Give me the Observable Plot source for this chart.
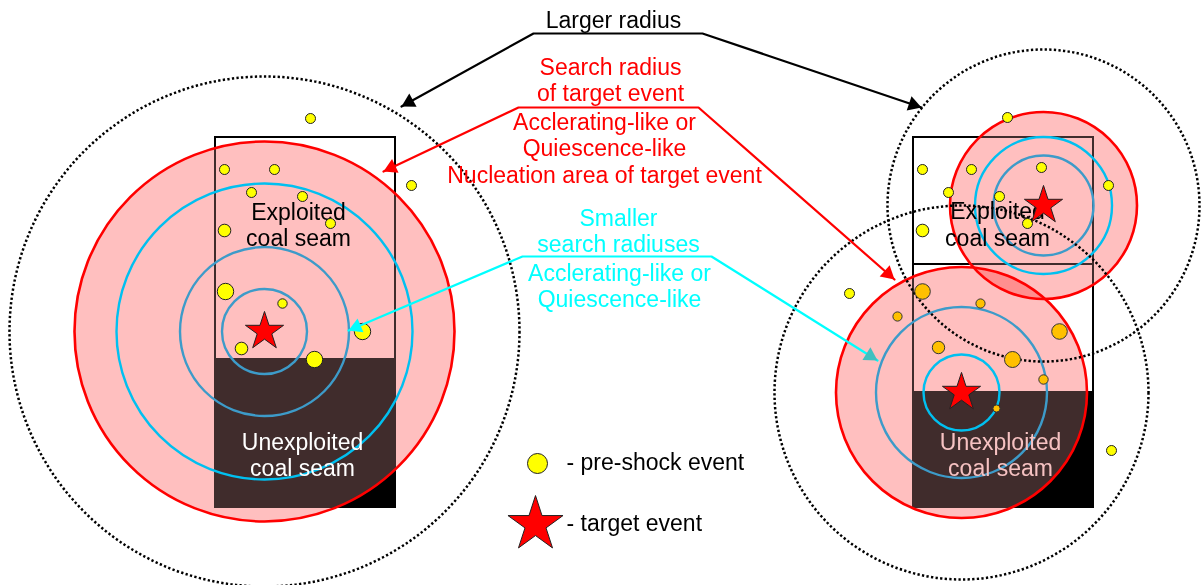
<!DOCTYPE html>
<html>
<head>
<meta charset="utf-8">
<script src="https://cdn.jsdelivr.net/npm/d3@7"></script>
<script src="https://cdn.jsdelivr.net/npm/@observablehq/plot@0.6"></script>
<style>
  html, body { margin: 0; padding: 0; background: #fff; }
  #chart svg { display: block; }
</style>
</head>
<body>
<div id="chart"></div>
<script>
// ---------- diagram data (units: figure pixels, y grows downward) ----------
const seamBlocks = [
  {x1: 215, x2: 395, y1: 137, y2: 507},
  {x1: 913, x2: 1093, y1: 137, y2: 264},
  {x1: 913, x2: 1093, y1: 264, y2: 507}
];
const unexploitedBlocks = [
  {x1: 215, x2: 395, y1: 358, y2: 507},
  {x1: 913, x2: 1093, y1: 391, y2: 507}
];
const targetEvents = [
  {x: 264, y: 331},
  {x: 1043, y: 205},
  {x: 961, y: 392}
];
const searchRadius = [190, 93.5, 125.5];     // red nucleation areas
const largerRadius = [255, 156, 187];        // dotted circles
const smallerRadiusLight = [[0, 148], [1, 68.5], [2, 38]];          // [target index, radius]
const smallerRadiusSteel = [[0, 84.5], [0, 42.5], [1, 50], [2, 85.5]];

const preShockYellow = [
  [310, 118, 5], [224, 169, 5], [274, 169, 5], [251, 192, 5], [302, 196, 5],
  [411, 185, 5], [330, 223, 5], [224, 230, 6.3], [225, 291, 8.2], [282, 303, 4.7],
  [362, 331, 8.2], [241, 348, 6.3], [314, 359, 8.2],
  [1007, 117, 5], [922, 169, 5], [971, 169, 5], [948, 192, 5], [999, 196, 5],
  [1041, 167, 5], [1108, 185, 5], [1027, 223, 5], [922, 230, 6.3],
  [849, 293, 5], [1111, 450, 5]
];
const preShockOrange = [
  [922, 291, 7.8], [980, 303, 4.6], [897, 316, 4.6], [1059, 331, 7.8],
  [938, 347, 6.2], [1012, 359, 8], [1043, 379, 4.7], [996, 408, 3.6]
];

const largerRadiusLeader = [[401, 106], [533, 33], [702, 33], [921, 107]];
const searchRadiusLeader = [[383, 171], [518, 107], [698, 107], [894, 279]];
const smallerRadiusLeader = [[348, 330], [522, 256], [711, 256], [877, 360]];

const largerRadiusLabel = [{text: "Larger radius", x: 613, y: 27}];
const searchRadiusLabel = [
  {text: "Search radius", x: 610, y: 74},
  {text: "of target event", x: 610, y: 100},
  {text: "Acclerating-like or", x: 604, y: 129},
  {text: "Quiescence-like", x: 604, y: 155},
  {text: "Nucleation area of target event", x: 604, y: 182}
];
const smallerRadiusLabel = [
  {text: "Smaller", x: 618, y: 225},
  {text: "search radiuses", x: 618, y: 251},
  {text: "Acclerating-like or", x: 619, y: 280},
  {text: "Quiescence-like", x: 619, y: 306}
];
const exploitedLabels = [
  {text: "Exploited", x: 298, y: 219}, {text: "coal seam", x: 298, y: 245},
  {text: "Exploited", x: 997, y: 218}, {text: "coal seam", x: 997, y: 245}
];
const unexploitedLabelsLeft = [
  {text: "Unexploited", x: 302, y: 449}, {text: "coal seam", x: 302, y: 475}
];
const unexploitedLabelsRight = [
  {text: "Unexploited", x: 1000, y: 449}, {text: "coal seam", x: 1000, y: 475}
];
const legendPreShock = [{x: 537, y: 463, r: 10, label: "- pre-shock event", lx: 566, ly: 469}];
const legendTarget = [{x: 535, y: 524, label: "- target event", lx: 566, ly: 530}];

// ---------- derived tables ----------
const W = 1202, H = 585;
const circles = (radii) => radii.map(([i, r]) => ({x: targetEvents[i].x, y: targetEvents[i].y, r}));
const searchCircles = circles(searchRadius.map((r, i) => [i, r]));
const largerCircles = circles(largerRadius.map((r, i) => [i, r]));
const lightCircles = circles(smallerRadiusLight);
const steelCircles = circles(smallerRadiusSteel);
const dotsOf = (arr) => arr.map(([x, y, r]) => ({x, y, r}));
const path = (pts) => pts.map(([x, y]) => ({x, y}));

const HEAD_R = 5.6;
const headOffset = 2 * HEAD_R * Math.sqrt(Math.PI / (3 * Math.sqrt(3)));
function head(tip, from) {
  const dx = tip[0] - from[0], dy = tip[1] - from[1];
  const L = Math.hypot(dx, dy), ux = dx / L, uy = dy / L;
  return {x: tip[0] - ux * headOffset, y: tip[1] - uy * headOffset,
          angle: Math.atan2(ux, -uy) * 180 / Math.PI};
}
const startHead = (p) => [head(p[0], p[1])];
const endHead = (p) => [head(p[p.length - 1], p[p.length - 2])];

const FONT = 23;
const txt = (data, fill, anchor = "middle") => Plot.text(data, {
  x: "x", y: "y", text: "text", fill, fontSize: FONT, textAnchor: anchor, lineAnchor: "bottom"
});

const chart = Plot.plot({
  width: W, height: H, margin: 0,
  x: {domain: [0, W], range: [0, W], axis: null},
  y: {domain: [0, H], range: [0, H], axis: null},
  r: {type: "linear", domain: [0, 300], range: [0, 300]},
  style: {background: "#fff", fontFamily: "'Liberation Sans', Arial, sans-serif", overflow: "visible"},
  marks: [
    Plot.rect(unexploitedBlocks, {x1: "x1", x2: "x2", y1: "y1", y2: "y2", fill: "#000"}),
    Plot.rect(seamBlocks, {x1: "x1", x2: "x2", y1: "y1", y2: "y2", fill: "none", stroke: "#000", strokeWidth: 2}),
    Plot.dot(searchCircles, {x: "x", y: "y", r: "r", fill: "#ff0000", fillOpacity: 0.25}),
    Plot.dot(searchCircles, {x: "x", y: "y", r: "r", fill: "#2c2c2c", mixBlendMode: "lighten"}),
    Plot.dot(searchCircles, {x: "x", y: "y", r: "r", stroke: "#ff0000", strokeWidth: 2.6, fill: "none"}),
    Plot.dot(lightCircles, {x: "x", y: "y", r: "r", stroke: "#00c0f0", strokeWidth: 2.4, fill: "none"}),
    Plot.dot(steelCircles, {x: "x", y: "y", r: "r", stroke: "#3d9bc9", strokeWidth: 2.4, fill: "none"}),
    txt(exploitedLabels, "#000"),
    txt(unexploitedLabelsLeft, "#fff"),
    txt(unexploitedLabelsRight, "#f6c2c2"),
    Plot.dot(largerCircles, {x: "x", y: "y", r: "r", stroke: "#000", strokeWidth: 2.5, strokeDasharray: "2.3,2.3", fill: "none"}),
    Plot.dot(dotsOf(preShockYellow), {x: "x", y: "y", r: "r", fill: "#ffff00", stroke: "#222", strokeWidth: 1}),
    Plot.dot(dotsOf(preShockOrange), {x: "x", y: "y", r: "r", fill: "#ffc000", stroke: "#333", strokeWidth: 1}),
    Plot.dot(targetEvents, {x: "x", y: "y", r: 12, symbol: "star", fill: "#ff0000", stroke: "#222", strokeWidth: 1}),
    // leaders
    Plot.line(path(largerRadiusLeader), {x: "x", y: "y", stroke: "#000", strokeWidth: 2.2}),
    Plot.line(path(searchRadiusLeader), {x: "x", y: "y", stroke: "#ff0000", strokeWidth: 2.2}),
    Plot.line(path(smallerRadiusLeader), {x: "x", y: "y", stroke: "#00ffff", strokeWidth: 2.2}),
    Plot.dot([...startHead(largerRadiusLeader), ...endHead(largerRadiusLeader)], {x: "x", y: "y", r: HEAD_R, symbol: "triangle", rotate: "angle", fill: "#000"}),
    Plot.dot([...startHead(searchRadiusLeader), ...endHead(searchRadiusLeader)], {x: "x", y: "y", r: HEAD_R, symbol: "triangle", rotate: "angle", fill: "#ff0000"}),
    Plot.dot(startHead(smallerRadiusLeader), {x: "x", y: "y", r: HEAD_R, symbol: "triangle", rotate: "angle", fill: "#00ffff"}),
    Plot.dot(endHead(smallerRadiusLeader), {x: "x", y: "y", r: HEAD_R, symbol: "triangle", rotate: "angle", fill: "#40c0c0"}),
    txt(largerRadiusLabel, "#000"),
    txt(searchRadiusLabel, "#ff0000"),
    txt(smallerRadiusLabel, "#00ffff"),
    // legend
    Plot.dot(legendPreShock, {x: "x", y: "y", r: "r", fill: "#ffff00", stroke: "#222", strokeWidth: 1}),
    Plot.dot(legendTarget, {x: "x", y: "y", r: 17.3, symbol: "star", fill: "#ff0000", stroke: "#222", strokeWidth: 1}),
    Plot.text([...legendPreShock, ...legendTarget], {x: "lx", y: "ly", text: "label", fill: "#000", fontSize: FONT, textAnchor: "start", lineAnchor: "bottom"})
  ]
});
document.getElementById("chart").appendChild(chart);
</script>
</body>
</html>
